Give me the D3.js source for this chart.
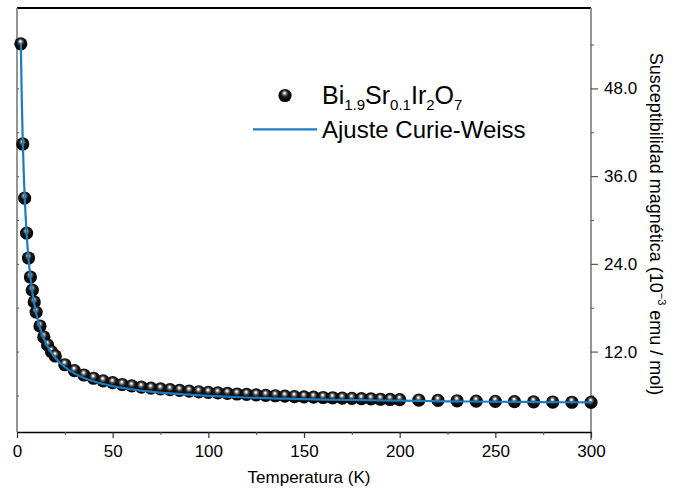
<!DOCTYPE html>
<html>
<head>
<meta charset="utf-8">
<script src="https://cdn.jsdelivr.net/npm/d3@7"></script>
<style>
  html, body { margin: 0; padding: 0; background: #fff; }
  svg { display: block; font-family: "Liberation Sans", Arial, sans-serif; }
</style>
</head>
<body>
<script>
// Magnetic susceptibility of Bi1.9Sr0.1Ir2O7 versus temperature
const temperatures = [2, 3, 4, 5, 6, 7, 8, 9, 10, 12, 14, 16, 18, 20, 25, 30, 35, 40, 45, 50,
  55, 60, 65, 70, 75, 80, 85, 90, 95, 100, 105, 110, 115, 120, 125, 130, 135, 140, 145, 150,
  155, 160, 165, 170, 175, 180, 185, 190, 195, 200, 210, 220, 230, 240, 250, 260, 270, 280, 290, 300];
const susceptibility = [54.1, 40.4, 33.0, 28.2, 24.8, 22.2, 20.4, 18.8, 17.4, 15.5, 14.0, 12.9, 12.0, 11.4, 10.2, 9.4, 8.8, 8.35, 8.0, 7.75,
  7.5, 7.3, 7.15, 7.0, 6.9, 6.8, 6.7, 6.6, 6.5, 6.42, 6.35, 6.28, 6.2, 6.14, 6.08, 6.02, 5.96, 5.9, 5.85, 5.8,
  5.76, 5.72, 5.68, 5.64, 5.6, 5.56, 5.52, 5.48, 5.45, 5.42, 5.37, 5.32, 5.27, 5.23, 5.19, 5.16, 5.13, 5.1, 5.07, 5.05];

// Curie-Weiss fit curve samples
const fitTemperatures = [2, 2.5, 3, 3.5, 4, 5, 6, 7, 8, 9, 10, 12, 14, 16, 18, 20, 25, 30, 35, 40,
  50, 60, 70, 80, 90, 100, 120, 140, 160, 180, 200, 225, 250, 275, 300];
const fitValues = [54.10, 46.48, 40.90, 36.63, 33.25, 28.27, 24.76, 22.16, 20.15, 18.56, 17.26, 15.27, 13.83, 12.72, 11.86, 11.16, 9.88, 9.02, 8.40, 7.94,
  7.28, 6.84, 6.52, 6.28, 6.10, 5.95, 5.72, 5.56, 5.44, 5.35, 5.28, 5.20, 5.14, 5.09, 5.05];

const xTicks = [0, 50, 100, 150, 200, 250, 300];
const xMinorTicks = [25, 75, 125, 175, 225, 275];
const yTicks = [12, 24, 36, 48];
const yMinorTicks = [6, 18, 30, 42, 54];
const yLeftTicks = [6, 12, 18, 24, 30, 36, 42, 48, 54];

const W = 681, H = 493;
const plot = { left: 17, right: 591, top: 8, bottom: 432 };
const fitColor = "#1b7dc1";
const axisGray = "#7a7a7a";
const fontFamily = "'Liberation Sans', Arial, sans-serif";

const svg = d3.select("body").append("svg").attr("width", W).attr("height", H);

const x = d3.scaleLinear().domain([0, 300]).range([plot.left, plot.right]);
const y = d3.scaleLinear().domain([1, 59]).range([plot.bottom, plot.top]);

// sphere shading for the markers: black ball with a small specular highlight
const defs = svg.append("defs");
const grad = defs.append("radialGradient").attr("id", "sphere")
  .attr("cx", "0.5").attr("cy", "0.42").attr("r", "0.58")
  .attr("fx", "0.46").attr("fy", "0.3");
[["0", "#ffffff"], ["0.1", "#e6e6e6"], ["0.26", "#6a6a6a"], ["0.48", "#151515"], ["1", "#000000"]]
  .forEach(([o, c]) => grad.append("stop").attr("offset", o).attr("stop-color", c));

// frame: black top edge, gray side axes
svg.append("line").attr("x1", plot.left).attr("x2", plot.right).attr("y1", plot.top).attr("y2", plot.top)
  .attr("stroke", "#000").attr("stroke-width", 2);
svg.append("line").attr("x1", plot.left).attr("x2", plot.left).attr("y1", plot.top).attr("y2", plot.bottom)
  .attr("stroke", axisGray).attr("stroke-width", 1.6);
svg.append("line").attr("x1", plot.right).attr("x2", plot.right).attr("y1", plot.top).attr("y2", plot.bottom + 8)
  .attr("stroke", axisGray).attr("stroke-width", 1.6);

// bottom axis
const xAxis = svg.append("g").attr("transform", `translate(0,${plot.bottom})`)
  .call(d3.axisBottom(x).tickValues(xTicks).tickSize(6).tickSizeOuter(0).tickPadding(7));
xAxis.select(".domain").attr("stroke", "#000").attr("stroke-width", 1.6);
xAxis.selectAll(".tick line").attr("stroke", "#333").attr("stroke-width", 1.2);
xAxis.selectAll("text").attr("font-size", 17).attr("fill", "#000").attr("font-family", fontFamily);

const xMinor = svg.append("g").attr("transform", `translate(0,${plot.bottom})`)
  .call(d3.axisBottom(x).tickValues(xMinorTicks).tickSize(3).tickFormat(""));
xMinor.select(".domain").remove();
xMinor.selectAll(".tick line").attr("stroke", "#555");

// right axis with labels
const yAxis = svg.append("g").attr("transform", `translate(${plot.right},0)`)
  .call(d3.axisRight(y).tickValues(yTicks).tickFormat(d3.format(".1f")).tickSize(7).tickPadding(6));
yAxis.select(".domain").remove();
yAxis.selectAll(".tick line").attr("stroke", "#555").attr("stroke-width", 1.2);
yAxis.selectAll("text").attr("font-size", 17).attr("fill", "#000").attr("font-family", fontFamily);

const yMinor = svg.append("g").attr("transform", `translate(${plot.right},0)`)
  .call(d3.axisRight(y).tickValues(yMinorTicks).tickSize(3).tickFormat(""));
yMinor.select(".domain").remove();
yMinor.selectAll(".tick line").attr("stroke", "#555");

// left axis: small inward ticks only
const yLeft = svg.append("g").attr("transform", `translate(${plot.left},0)`)
  .call(d3.axisLeft(y).tickValues(yLeftTicks).tickSize(-2).tickFormat(""));
yLeft.select(".domain").remove();
yLeft.selectAll(".tick line").attr("stroke", "#555");

// axis titles
svg.append("text").attr("x", 309).attr("y", 483).attr("text-anchor", "middle")
  .attr("font-size", 17).text("Temperatura (K)");

const yTitle = svg.append("text").attr("transform", "translate(650,224) rotate(90)")
  .attr("text-anchor", "middle").attr("font-size", 18);
yTitle.append("tspan").text("Susceptibilidad magnética (10");
yTitle.append("tspan").attr("font-size", 11).attr("dy", -8).text("−3");
yTitle.append("tspan").attr("dy", 8).text(" emu / mol)");

// data points
svg.append("g").selectAll("circle")
  .data(temperatures.map((t, i) => [t, susceptibility[i]]))
  .join("circle")
  .attr("cx", d => x(d[0]))
  .attr("cy", d => y(d[1]))
  .attr("r", 6.6)
  .attr("fill", "url(#sphere)");

// fit curve on top of the points
const line = d3.line().x(d => x(d[0])).y(d => y(d[1])).curve(d3.curveMonotoneX);
svg.append("path")
  .datum(fitTemperatures.map((t, i) => [t, fitValues[i]]))
  .attr("d", line)
  .attr("fill", "none").attr("stroke", fitColor).attr("stroke-width", 2.2);

// legend
svg.append("circle").attr("cx", 285).attr("cy", 95.5).attr("r", 6.6).attr("fill", "url(#sphere)");
svg.append("line").attr("x1", 253).attr("x2", 317).attr("y1", 129.3).attr("y2", 129.3)
  .attr("stroke", fitColor).attr("stroke-width", 2.2);

const formula = svg.append("text").attr("x", 322).attr("y", 103.5).attr("font-size", 25);
[["Bi", false], ["1.9", true], ["Sr", false], ["0.1", true], ["Ir", false], ["2", true], ["O", false], ["7", true]]
  .forEach(([s, sub], i, arr) => {
    const prevSub = i > 0 && arr[i - 1][1];
    const ts = formula.append("tspan").text(s);
    if (sub) ts.attr("font-size", 15).attr("dy", 6);
    else if (prevSub) ts.attr("dy", -6);
  });

svg.append("text").attr("x", 322).attr("y", 137.5).attr("font-size", 24).text("Ajuste Curie-Weiss");
</script>
</body>
</html>
